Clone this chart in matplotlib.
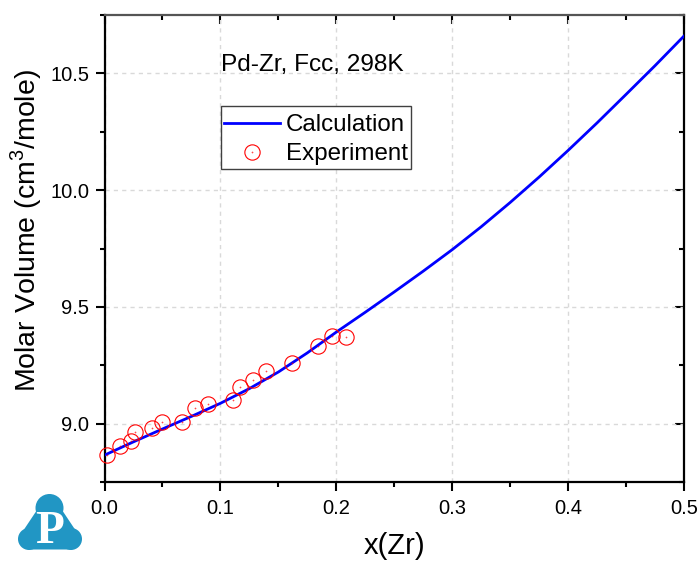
import matplotlib
matplotlib.use("Agg")
import matplotlib.pyplot as plt
from matplotlib.path import Path
from matplotlib.patches import Circle, Polygon, Rectangle
from matplotlib.ticker import MultipleLocator

plt.rcParams['font.family'] = ['Liberation Sans', 'DejaVu Sans']
plt.rcParams['mathtext.fontset'] = 'custom'
plt.rcParams['mathtext.rm'] = 'Liberation Sans'

calc_x = [0.0, 0.025, 0.05, 0.075, 0.1, 0.125, 0.15, 0.175, 0.2, 0.225, 0.25, 0.275, 0.3,
          0.325, 0.35, 0.375, 0.4, 0.425, 0.45, 0.475, 0.5]
calc_y = [8.865, 8.922, 8.977, 9.031, 9.087, 9.150, 9.221, 9.303, 9.392, 9.477, 9.564, 9.653, 9.745,
          9.843, 9.947, 10.056, 10.170, 10.288, 10.410, 10.533, 10.660]
exp_x = [0.002, 0.013, 0.023, 0.026, 0.041, 0.0495, 0.067, 0.078, 0.0895, 0.1105, 0.1165,
         0.128, 0.139, 0.1615, 0.1845, 0.1965, 0.208]
exp_y = [8.865, 8.905, 8.925, 8.964, 8.980, 9.006, 9.007, 9.065, 9.085, 9.103, 9.155,
         9.187, 9.224, 9.259, 9.333, 9.376, 9.372]
x_ticks = [0.0, 0.1, 0.2, 0.3, 0.4, 0.5]
y_ticks = [9.0, 9.5, 10.0, 10.5]

W, H = 699, 561
fig = plt.figure(figsize=(W / 100, H / 100), dpi=100)
L, R, T, B = 104.5, 684, 15, 482
ax = fig.add_axes([L / W, 1 - B / H, (R - L) / W, (B - T) / H])

# overlay in figure pixel coordinates, for the title text, legend box and logo
over = fig.add_axes([0, 0, 1, 1], facecolor='none')
over.set_xlim(0, W)
over.set_ylim(H, 0)
over.axis('off')

ax.grid(True, which='major', ls=(0, (3, 3)), color='#d9d9d9', lw=1)
ax.set_axisbelow(True)

ring = Path.make_compound_path(
    Path.unit_circle(),
    Path(Path.unit_circle().vertices * 0.03, Path.unit_circle().codes),
)
ax.plot(calc_x, calc_y, color='#0000ff', lw=2, label='Calculation', zorder=3)
ax.plot(exp_x, exp_y, ls='none', marker=ring, ms=11, mfc='none', mec='#ff0000', mew=0.8,
        label='Experiment', clip_on=False, zorder=4)

ax.set_xlim(0, 0.5)
ax.set_ylim(8.75, 10.75)
ax.set_xticks(x_ticks)
ax.set_yticks(y_ticks)
ax.xaxis.set_major_formatter(lambda v, p: f"{v:.1f}")
ax.yaxis.set_major_formatter(lambda v, p: f"{v:.1f}")
ax.xaxis.set_minor_locator(MultipleLocator(0.05))
ax.yaxis.set_minor_locator(MultipleLocator(0.25))
for s in ax.spines.values():
    s.set_linewidth(1.6)
ax.spines['top'].set_color('#555555')
ax.tick_params(axis='x', which='major', length=6.3, width=1.5, labelsize=14.5, pad=6, direction='out')
ax.tick_params(axis='y', which='major', length=6.3, width=1.5, labelsize=14.5, pad=4.5, direction='out')
ax.tick_params(which='minor', length=3.6, width=1.5, direction='out')
sec_x = ax.secondary_xaxis('top')
sec_x.set_xticks(x_ticks, labels=[])
sec_x.xaxis.set_minor_locator(MultipleLocator(0.05))
sec_x.tick_params(which='major', direction='in', length=6.3, width=1.5)
sec_x.tick_params(which='minor', direction='in', length=3.6, width=1.5)
sec_x.spines['top'].set_visible(False)
sec_y = ax.secondary_yaxis('right')
sec_y.set_yticks(y_ticks, labels=[])
sec_y.yaxis.set_minor_locator(MultipleLocator(0.25))
sec_y.tick_params(which='major', direction='in', length=6.3, width=1.5)
sec_y.tick_params(which='minor', direction='in', length=3.6, width=1.5)
sec_y.spines['right'].set_visible(False)

ax.set_xlabel('x(Zr)', fontsize=21)
ax.xaxis.set_label_coords(0.5, (B - 546) / (B - T))
ax.xaxis.label.set_va('center')
ax.set_ylabel('Molar Volume (cm$^{3}$/mole)', fontsize=20.5, va='center')
ax.yaxis.set_label_coords((26 - L) / (R - L), (B - 231) / (B - T))

ax.add_patch(Rectangle((221, 106), 190, 63, transform=over.transData, facecolor='white',
                       edgecolor='#404040', lw=1, zorder=5))
leg = ax.legend(loc='upper left', bbox_to_anchor=((224 - L) / (R - L), 1 - (114 - T) / (B - T)),
                bbox_transform=ax.transAxes, borderaxespad=0, frameon=False, fontsize=17.4,
                labelspacing=0.29, handlelength=2.3, handletextpad=0.25, borderpad=0)
leg.set_zorder(6)

over.text(221, 65, 'Pd-Zr, Fcc, 298K', fontsize=17.6, va='center', ha='left')
logo = '#2196c4'
for cx, cy, r in [(49.5, 508, 14), (29, 539, 11), (71, 539, 11)]:
    over.add_patch(Circle((cx, cy), r, color=logo, lw=0))
over.add_patch(Polygon([(37, 510), (62, 510), (76, 531), (72, 549.5), (28, 549.5), (23, 531)],
                       closed=True, color=logo, lw=0))
over.text(49.5, 532, 'P', family='Liberation Serif', weight='bold', fontsize=34, color='white',
          ha='center', va='center')

fig.savefig('out.png', dpi=100)
